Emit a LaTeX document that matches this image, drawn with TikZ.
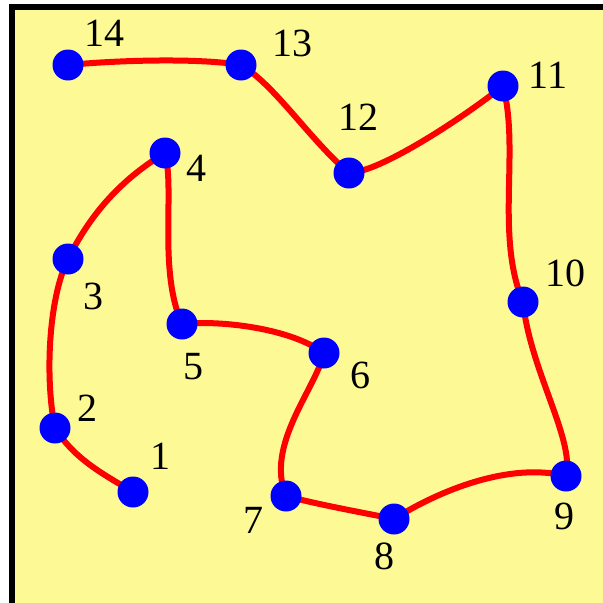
\documentclass[tikz,border=0pt]{standalone}
\usepackage{fontspec}
\setmainfont{Liberation Serif}
\usetikzlibrary{backgrounds}
\definecolor{PadYellow}{RGB}{253, 250, 150}

\begin{document}
\begin{tikzpicture}[x=1pt, y=-1pt,
		dot/.style={circle, fill=blue, inner sep=0pt, minimum size=31pt},
		wire/.style={red, line width=6pt, line cap=round},
		num/.style={font=\fontsize{40}{48}\selectfont, inner sep=0pt}]
	\useasboundingbox (0,0) rectangle (603,603);
	% Punkte
	\node[dot] (p1) at (133,492) {};
	\node[dot] (p2) at (55,428) {};
	\node[dot] (p3) at (68,259) {};
	\node[dot] (p4) at (165,153) {};
	\node[dot] (p5) at (182,324) {};
	\node[dot] (p6) at (324,353) {};
	\node[dot] (p7) at (286,496) {};
	\node[dot] (p8) at (394,519) {};
	\node[dot] (p9) at (566,476) {};
	\node[dot] (p10) at (523,302) {};
	\node[dot] (p11) at (503,86) {};
	\node[dot] (p12) at (349,173) {};
	\node[dot] (p13) at (241,65) {};
	\node[dot] (p14) at (68,65) {};

	% Nummern
	\node[num] (l1) at (160,456) {1};
	\node[num] (l2) at (87,408) {2};
	\node[num] (l3) at (93,296) {3};
	\node[num] (l4) at (196,168) {4};
	\node[num] (l5) at (193,367) {5};
	\node[num] (l6) at (360,375) {6};
	\node[num] (l7) at (253,520) {7};
	\node[num] (l8) at (384,556) {8};
	\node[num] (l9) at (564,516) {9};
	\node[num] (l10) at (565,273) {10};
	\node[num] (l11) at (548,75) {11};
	\node[num] (l12) at (358,117) {12};
	\node[num] (l13) at (292,43) {13};
	\node[num] (l14) at (104,33) {14};

	\begin{pgfonlayer}{background}
		% Blatt
		\fill[PadYellow] (12,7) rectangle (603,603);
		\draw[line width=6pt] (12,603) -- (12,7) -- (603,7);
		% Weg
		\draw[wire] (p1.center) .. controls (105,475) and (75,460) .. (p2.center);
		\draw[wire] (p2.center) .. controls (45,380) and (48,300) .. (p3.center);
		\draw[wire] (p3.center) .. controls (90,215) and (120,180) .. (p4.center);
		\draw[wire] (p4.center) .. controls (175,190) and (158,270) .. (p5.center);
		\draw[wire] (p5.center) .. controls (220,320) and (290,328) .. (p6.center);
		\draw[wire] (p6.center) .. controls (315,390) and (265,445) .. (p7.center);
		\draw[wire] (p7.center) .. controls (320,505) and (360,512) .. (p8.center);
		\draw[wire] (p8.center) .. controls (440,490) and (510,462) .. (p9.center);
		\draw[wire] (p9.center) .. controls (575,440) and (530,370) .. (p10.center);
		\draw[wire] (p10.center) .. controls (495,235) and (520,150) .. (p11.center);
		\draw[wire] (p11.center) .. controls (460,120) and (380,172) .. (p12.center);
		\draw[wire] (p12.center) .. controls (310,140) and (275,85) .. (p13.center);
		\draw[wire] (p13.center) .. controls (200,58) and (120,60) .. (p14.center);
	\end{pgfonlayer}
\end{tikzpicture}
\end{document}
